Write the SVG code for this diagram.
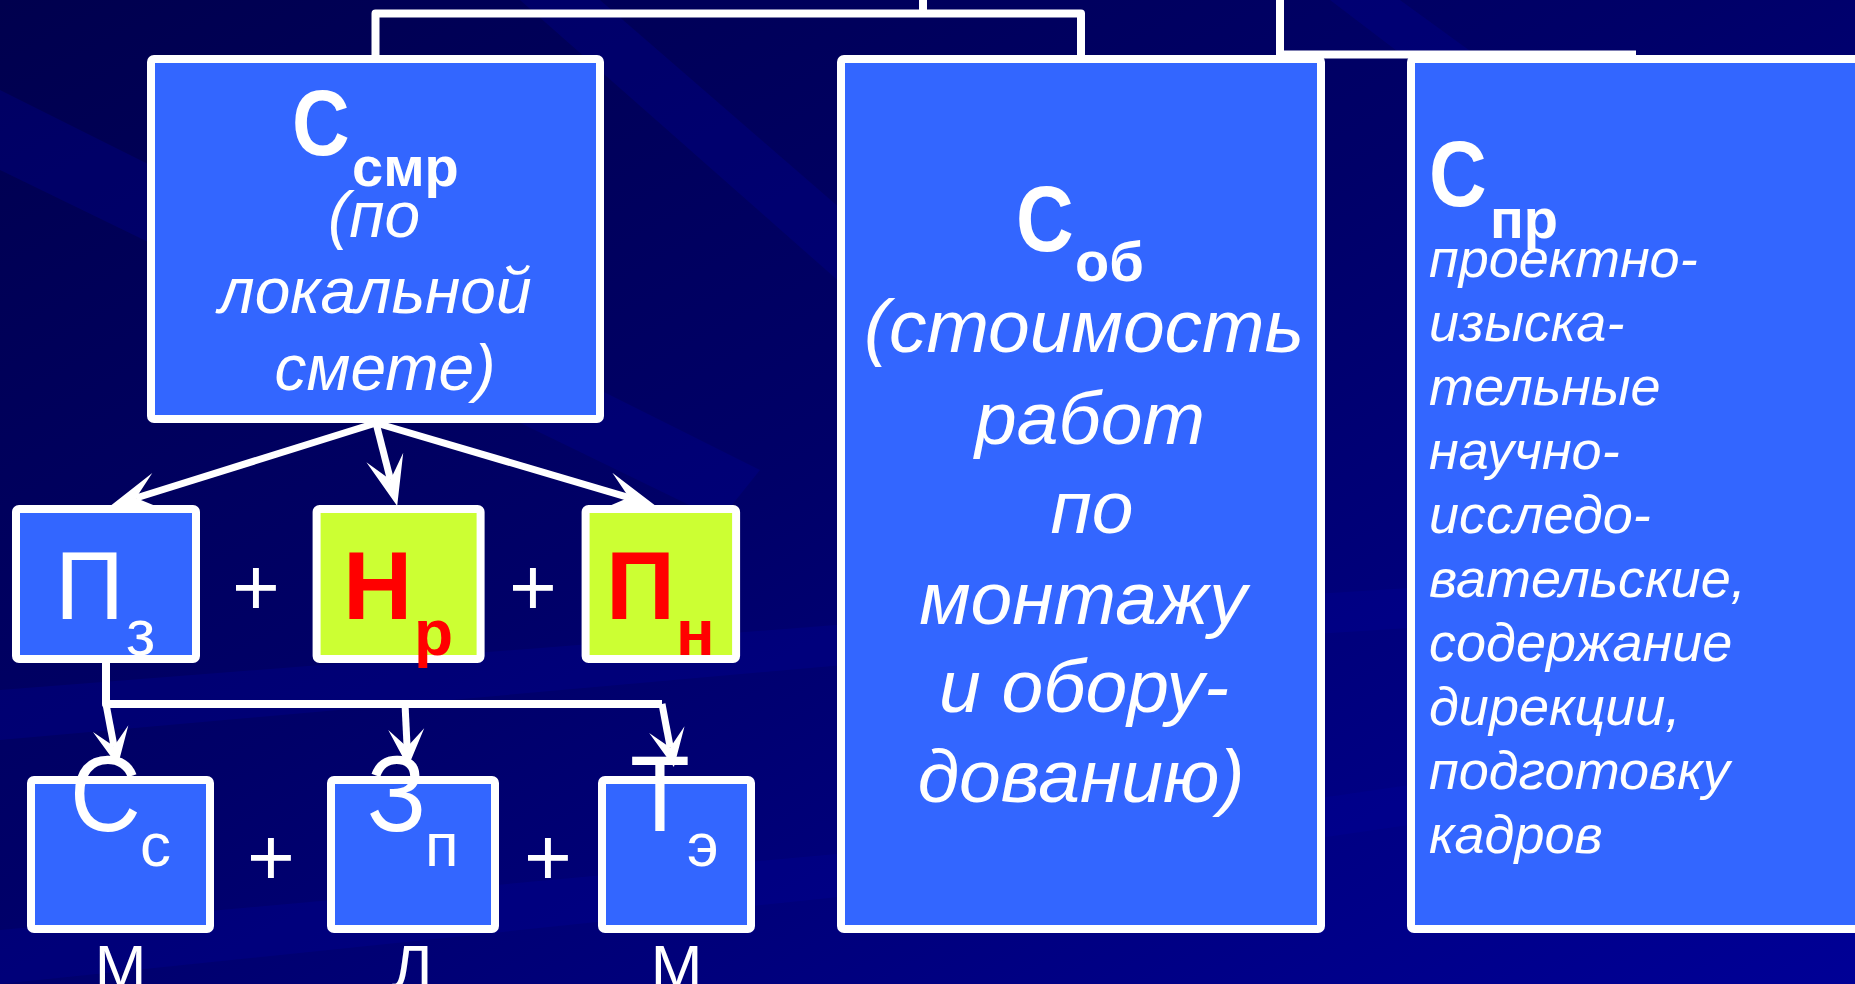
<svg xmlns="http://www.w3.org/2000/svg" width="1855" height="984" viewBox="0 0 1855 984">
<defs>
<linearGradient id="bg" x1="0" y1="0" x2="1" y2="1">
<stop offset="0" stop-color="#00004E"/>
<stop offset="0.45" stop-color="#000068"/>
<stop offset="1" stop-color="#000096"/>
</linearGradient>
<marker id="ahL" markerUnits="userSpaceOnUse" markerWidth="56" markerHeight="44" viewBox="-52 -22 56 44" refX="-27" refY="0" orient="auto">
<path d="M0,0 L-50,-19 L-27,0 L-50,19 Z" fill="#FFFFFF"/>
</marker>
<marker id="ahS" markerUnits="userSpaceOnUse" markerWidth="44" markerHeight="40" viewBox="-40 -20 44 40" refX="-20" refY="0" orient="auto">
<path d="M0,0 L-38,-18 L-20,0 L-38,18 Z" fill="#FFFFFF"/>
</marker>
<style>
.box{fill:#3366FF;stroke:#FFFFFF;stroke-width:8}
.ybox{fill:#CCFF33;stroke:#FFFFFF;stroke-width:8}
.conn{fill:none;stroke:#FFFFFF;stroke-width:8;stroke-linejoin:round}
.arr{fill:none;stroke:#FFFFFF;stroke-width:7}
.t{font-family:"Liberation Sans",Arial,sans-serif;fill:#FFFFFF}
.b{font-weight:bold}
.i{font-style:italic}
.red{fill:#FF0000}
.streak{fill:#0000A0}
</style>
</defs>
<rect width="1855" height="984" fill="url(#bg)"/>
<g opacity="0.25">
<polygon class="streak" points="0,90 0,170 720,520 760,470"/>
<polygon class="streak" points="520,0 600,0 900,260 860,300"/>
<polygon class="streak" points="0,690 0,740 900,660 1855,600 1855,560 900,620"/>
<polygon class="streak" points="0,930 0,984 1100,870 1855,760 1855,720 1100,830"/>
<polygon class="streak" points="1330,0 1400,0 1855,330 1855,400"/>
</g>
<g id="connectors">
<path class="conn" d="M375.5,55 V13.5 H1081 V55"/>
<path class="conn" d="M923,0 V13.5"/>
<path class="conn" d="M1280,0 V54.5 H1636"/>
<line class="arr" x1="376" y1="423" x2="136" y2="498" marker-end="url(#ahL)"/>
<line class="arr" x1="376" y1="423" x2="390.5" y2="479.8" marker-end="url(#ahL)"/>
<line class="arr" x1="376" y1="423" x2="629" y2="497.6" marker-end="url(#ahL)"/>
<path class="conn" d="M106,663 V704 H662"/>
<line class="arr" x1="106" y1="704" x2="114" y2="746.3" marker-end="url(#ahS)"/>
<line class="arr" x1="405" y1="704" x2="407.1" y2="747" marker-end="url(#ahS)"/>
<line class="arr" x1="662" y1="704" x2="670.2" y2="747.4" marker-end="url(#ahS)"/>
</g>
<g id="n-smr">
<rect class="box" x="151" y="59" width="449" height="360" rx="3"/>
<text class="t b" transform="translate(292,155) scale(0.95,1.1)" font-size="84">С</text>
<text class="t b" x="352" y="186" font-size="56">смр</text>
<text class="t i" x="328" y="237" font-size="64">(по</text>
<text class="t i" x="375" y="313" font-size="64" text-anchor="middle">локальной</text>
<text class="t i" x="385" y="390" font-size="64" text-anchor="middle">смете)</text>
</g>
<g id="n-ob">
<rect class="box" x="841" y="59" width="480" height="870" rx="3"/>
<text class="t b" transform="translate(1016,251) scale(0.95,1.1)" font-size="84">С</text>
<text class="t b" x="1075" y="281" font-size="56">об</text>
<g class="t i" font-size="75" text-anchor="middle">
<text x="1084" y="352">(стоимость</text>
<text x="1090" y="444">работ</text>
<text x="1092" y="533">по</text>
<text x="1083" y="624">монтажу</text>
<text x="1084" y="712">и обору-</text>
<text x="1081" y="802">дованию)</text>
</g>
</g>
<g id="n-pr">
<rect class="box" x="1411" y="59" width="500" height="870" rx="3"/>
<text class="t b" transform="translate(1429,206) scale(0.95,1.1)" font-size="84">С</text>
<text class="t b" x="1490" y="238" font-size="56">пр</text>
<g class="t i" font-size="54">
<text x="1429" y="277">проектно-</text>
<text x="1429" y="341">изыска-</text>
<text x="1429" y="405">тельные</text>
<text x="1429" y="469">научно-</text>
<text x="1429" y="533">исследо-</text>
<text x="1429" y="597">вательские,</text>
<text x="1429" y="661">содержание</text>
<text x="1429" y="725">дирекции,</text>
<text x="1429" y="789">подготовку</text>
<text x="1429" y="853">кадров</text>
</g>
</g>
<g id="n-pz">
<rect class="box" x="16" y="509" width="180" height="150" rx="3"/>
<text class="t" x="55" y="619" font-size="96">П</text>
<text class="t" x="126" y="655" font-size="64">з</text>
</g>
<text class="t" x="256" y="615" font-size="82" text-anchor="middle">+</text>
<g id="n-nr">
<rect class="ybox" x="316.6" y="509" width="164" height="150" rx="3"/>
<text class="t b red" x="343" y="619" font-size="96">Н</text>
<text class="t b red" x="414" y="655" font-size="64">р</text>
</g>
<text class="t" x="533" y="615" font-size="82" text-anchor="middle">+</text>
<g id="n-pn">
<rect class="ybox" x="585.6" y="509" width="150.5" height="150" rx="3"/>
<text class="t b red" x="606" y="619" font-size="96">П</text>
<text class="t b red" x="676" y="655" font-size="64">н</text>
</g>
<g id="n-ss">
<rect class="box" x="31" y="780" width="179" height="149" rx="3"/>
<text class="t" transform="translate(70,831) scale(1,1.1)" font-size="98">С</text>
<text class="t" x="140" y="866" font-size="62">с</text>
<text class="t" x="120.5" y="988" font-size="62" text-anchor="middle">М</text>
</g>
<text class="t" x="271" y="885" font-size="82" text-anchor="middle">+</text>
<g id="n-zp">
<rect class="box" x="331" y="780" width="164" height="149" rx="3"/>
<text class="t" transform="translate(367,831) scale(1,1.1)" font-size="98">З</text>
<text class="t" x="425" y="866" font-size="62">п</text>
<text class="t" x="412" y="988" font-size="62" text-anchor="middle">Л</text>
</g>
<text class="t" x="548" y="885" font-size="82" text-anchor="middle">+</text>
<g id="n-te">
<rect class="box" x="602" y="780" width="149" height="149" rx="3"/>
<text class="t" transform="translate(630,831) scale(1,1.1)" font-size="98">Т</text>
<text class="t" x="687" y="866" font-size="62">э</text>
<text class="t" x="676.5" y="988" font-size="62" text-anchor="middle">М</text>
</g>
</svg>
